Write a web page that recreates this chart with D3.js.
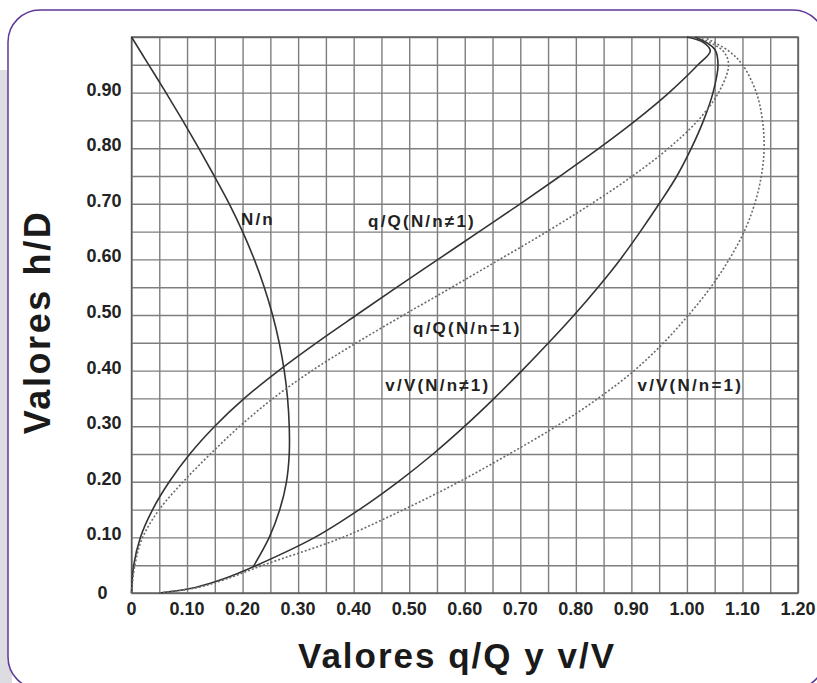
<!DOCTYPE html>
<html>
<head>
<meta charset="utf-8">
<script src="https://cdn.jsdelivr.net/npm/d3@7/dist/d3.min.js"></script>
<style>
  body { margin: 0; background: #fff; }
  svg { display: block; }
</style>
</head>
<body>
<script>
// curves, pairs of [x value, h/D]
const nnCurve = [[0,1.0],[0.031,0.95],[0.062,0.9],[0.092,0.85],[0.121,0.8],[0.149,0.75],[0.176,0.7],
  [0.2,0.65],[0.221,0.6],[0.239,0.55],[0.254,0.5],[0.266,0.45],[0.275,0.4],[0.281,0.35],[0.284,0.3],
  [0.284,0.25],[0.279,0.2],[0.267,0.15],[0.248,0.1],[0.219,0.047]]

const qQvar = [[0,0],[0.004,0.05],[0.016,0.1],[0.038,0.15],[0.068,0.2],[0.105,0.25],[0.15,0.3],
  [0.203,0.35],[0.265,0.4],[0.333,0.45],[0.405,0.5],[0.478,0.55],[0.552,0.6],[0.626,0.65],[0.70,0.7],
  [0.772,0.75],[0.842,0.8],[0.908,0.85],[0.968,0.9],[1.02,0.95],[1.042,0.975],[1.03,0.99],[1.0,1.0]]

const vVvar = [[0.05,0],[0.115,0.01],[0.165,0.025],[0.226,0.05],[0.33,0.1],[0.41,0.15],[0.48,0.2],
  [0.543,0.25],[0.60,0.3],[0.653,0.35],[0.703,0.4],[0.751,0.45],[0.797,0.5],[0.84,0.55],[0.88,0.6],
  [0.916,0.65],[0.95,0.7],[0.982,0.75],[1.008,0.8],[1.03,0.85],[1.047,0.9],[1.056,0.95],[1.05,0.978],[1.015,1.0]]

const qQconst = [[0,0],[0.006,0.05],[0.02,0.1],[0.05,0.15],[0.093,0.2],[0.142,0.25],[0.195,0.3],[0.255,0.35],
  [0.325,0.4],[0.405,0.45],[0.49,0.5],[0.577,0.55],[0.663,0.6],[0.748,0.65],[0.828,0.7],[0.902,0.75],
  [0.967,0.8],[1.02,0.85],[1.057,0.9],[1.075,0.95],[1.065,0.975],[1.02,1.0]]

const vVconst = [[0.05,0],[0.12,0.01],[0.17,0.025],[0.237,0.05],[0.38,0.1],[0.49,0.15],[0.59,0.2],
  [0.68,0.25],[0.765,0.3],[0.84,0.35],[0.905,0.4],[0.958,0.45],[1.003,0.5],[1.043,0.55],[1.076,0.6],
  [1.103,0.65],[1.122,0.7],[1.134,0.75],[1.139,0.8],[1.136,0.85],[1.125,0.9],[1.10,0.95],[1.075,0.975],[1.03,1.0]]

const xTickLabels = ["0","0.10","0.20","0.30","0.40","0.50","0.60","0.70","0.80","0.90","1.00","1.10","1.20"]
const yTickLabels = ["0","0.10","0.20","0.30","0.40","0.50","0.60","0.70","0.80","0.90"]

const curveLabels = [
  {text: "N/n", x: 0.197, h: 0.661},
  {text: "q/Q(N/n\u22601)", x: 0.426, h: 0.659},
  {text: "q/Q(N/n=1)", x: 0.507, h: 0.465},
  {text: "v/V(N/n\u22601)", x: 0.457, h: 0.363},
  {text: "v/V(N/n=1)", x: 0.911, h: 0.363}
]

const width = 817, height = 683
const margin = {top: 37, bottom: 90, left: 131.5, right: 19}

const svg = d3.select('body').append('svg')
  .attr('width', width)
  .attr('height', height)

// frame
svg.append('rect').attr('x', 0).attr('y', 70).attr('width', 12).attr('height', height - 70).attr('fill', '#dcdce1')
svg.append('rect')
  .attr('x', 8).attr('y', 10).attr('width', 817).attr('height', 679)
  .attr('rx', 32).attr('fill', '#fff')
  .attr('stroke', '#5e3a99').attr('stroke-width', 1.5)

const x = d3.scaleLinear().domain([0, 1.2]).range([margin.left, width - margin.right])
const y = d3.scaleLinear().domain([0, 1]).range([height - margin.bottom, margin.top])

// grid every 0.05
const gridX = d3.range(0, 24.5).map(i => i * 0.05)
const gridY = d3.range(0, 20.5).map(i => i * 0.05)

svg.append('g')
  .attr('transform', `translate(0,${y(0)})`)
  .call(d3.axisBottom(x).tickValues(gridX).tickSize(-(y(0) - y(1))).tickFormat(''))
  .call(g => g.select('.domain').remove())
  .call(g => g.selectAll('line').attr('stroke', '#7e7e7e').attr('stroke-width', 1.4))

svg.append('g')
  .attr('transform', `translate(${x(0)},0)`)
  .call(d3.axisLeft(y).tickValues(gridY).tickSize(-(x(1.2) - x(0))).tickFormat(''))
  .call(g => g.select('.domain').remove())
  .call(g => g.selectAll('line').attr('stroke', '#7e7e7e').attr('stroke-width', 1.4))

svg.append('rect')
  .attr('x', x(0)).attr('y', y(1))
  .attr('width', x(1.2) - x(0)).attr('height', y(0) - y(1))
  .attr('fill', 'none').attr('stroke', '#5a5a5a').attr('stroke-width', 1.4)

// tick labels
const tickFont = '"Liberation Sans", Arial, sans-serif'
svg.append('g').selectAll('text')
  .data(xTickLabels)
  .enter().append('text')
    .attr('x', (d, i) => x(i * 0.1))
    .attr('y', y(0) + 22)
    .attr('text-anchor', 'middle')
    .attr('font-family', tickFont).attr('font-weight', 'bold').attr('font-size', 18)
    .attr('fill', '#222')
    .text(d => d)

svg.append('g').selectAll('text')
  .data(yTickLabels)
  .enter().append('text')
    .attr('x', (d, i) => i === 0 ? x(0) - 29 : x(0) - 10)
    .attr('y', (d, i) => y(i * 0.1) + (i === 0 ? 6 : 3))
    .attr('text-anchor', (d, i) => i === 0 ? 'middle' : 'end')
    .attr('font-family', tickFont).attr('font-weight', 'bold').attr('font-size', 18)
    .attr('fill', '#222')
    .text(d => d)

// curves
const line = d3.line()
  .x(d => x(d[0]))
  .y(d => y(d[1]))
  .curve(d3.curveCatmullRom.alpha(0.5))

const series = [
  {data: nnCurve, dash: null},
  {data: qQvar, dash: null},
  {data: vVvar, dash: null},
  {data: qQconst, dash: '2,2'},
  {data: vVconst, dash: '2,2'}
]

svg.append('g').selectAll('path')
  .data(series)
  .enter().append('path')
    .attr('d', d => line(d.data))
    .attr('fill', 'none')
    .attr('stroke', d => d.dash ? '#6a6a6a' : '#333')
    .attr('stroke-width', 1.6)
    .attr('stroke-dasharray', d => d.dash)

svg.append('g').selectAll('text')
  .data(curveLabels)
  .enter().append('text')
    .attr('x', d => x(d.x))
    .attr('y', d => y(d.h))
    .attr('font-family', tickFont).attr('font-weight', 'bold').attr('font-size', 17)
    .attr('letter-spacing', 2.2)
    .attr('fill', '#222')
    .text(d => d.text)

// axis titles
svg.append('text')
  .attr('x', 457).attr('y', 668)
  .attr('text-anchor', 'middle')
  .attr('font-family', tickFont).attr('font-weight', 'bold').attr('font-size', 35)
  .attr('letter-spacing', 2)
  .attr('fill', '#1a1a1a')
  .text('Valores q/Q y v/V')

svg.append('text')
  .attr('transform', 'translate(50,322) rotate(-90)')
  .attr('text-anchor', 'middle')
  .attr('font-family', tickFont).attr('font-weight', 'bold').attr('font-size', 36)
  .attr('letter-spacing', 2.6)
  .attr('fill', '#1a1a1a')
  .text('Valores h/D')
</script>
</body>
</html>
